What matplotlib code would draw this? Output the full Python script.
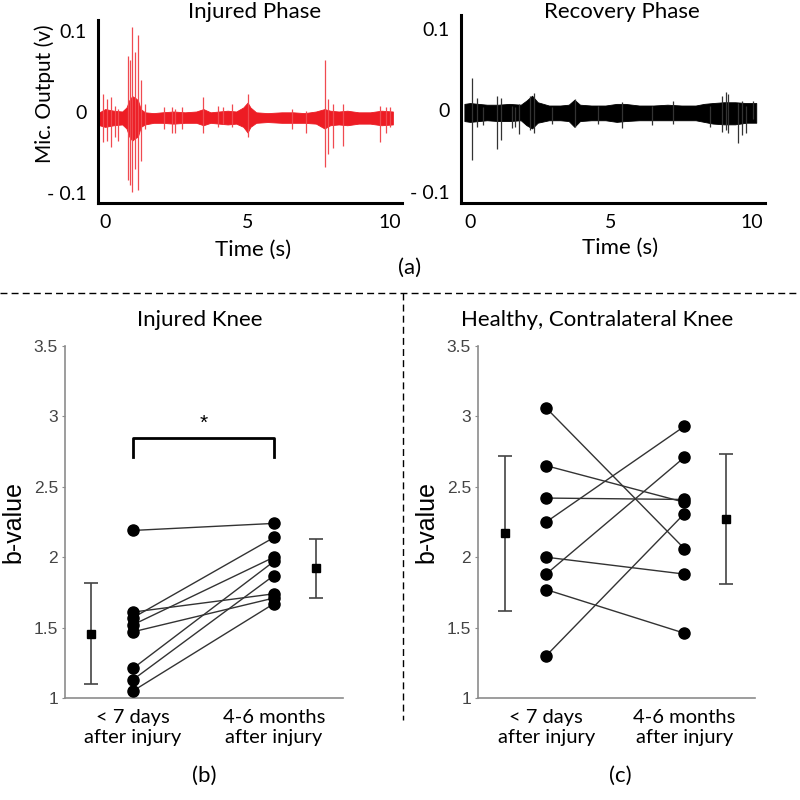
import numpy as np
import matplotlib
matplotlib.use("Agg")
import matplotlib.pyplot as plt
from matplotlib.lines import Line2D

# ---- panel (a): microphone traces ----
# baseline band (upper / lower edge) of the injured-phase trace
red_t = [-0.2, 0.0, 0.3, 0.6, 0.75, 0.85, 0.95, 1.05, 1.15, 1.25, 1.4, 1.7, 2.0,
         2.4, 2.8, 3.2, 3.45, 3.7, 4.0, 4.3, 4.6, 4.85, 5.0, 5.1, 5.3, 5.7, 6.2,
         6.6, 7.0, 7.4, 7.7, 7.9, 8.2, 8.5, 8.9, 9.3, 9.7, 10.1]
red_hi = [0.000, 0.004, 0.002, 0.001, 0.006, 0.015, 0.020, 0.018, 0.015, 0.004,
          0.000, -0.001, 0.000, 0.001, 0.000, 0.001, 0.004, 0.000, 0.001, 0.002,
          0.001, 0.006, 0.012, 0.006, 0.000, -0.001, 0.000, 0.000, -0.001, 0.001,
          0.004, 0.002, 0.001, 0.002, 0.000, 0.000, 0.002, 0.001]
red_lo = [-0.016, -0.018, -0.016, -0.015, -0.020, -0.030, -0.035, -0.032, -0.030,
          -0.018, -0.015, -0.013, -0.013, -0.014, -0.013, -0.013, -0.016, -0.013,
          -0.014, -0.015, -0.014, -0.018, -0.025, -0.018, -0.013, -0.012, -0.013,
          -0.013, -0.013, -0.014, -0.020, -0.016, -0.015, -0.016, -0.014, -0.014,
          -0.016, -0.015]
# spikes: time, top, bottom
red_spike_t = [-0.06, 0.06, 0.21, 0.35, 0.45, 0.80, 0.86, 0.96, 1.05, 1.15, 1.25,
               1.40, 2.05, 2.34, 2.45, 2.70, 3.45, 3.95, 4.15, 4.45, 5.03, 6.55,
               7.05, 7.70, 7.84, 8.01, 8.36, 9.65, 9.85, 10.0]
red_spike_hi = [0.023, 0.017, 0.019, 0.008, 0.004, 0.070, 0.065, 0.105, 0.075,
                0.095, 0.040, 0.010, 0.007, 0.007, 0.004, 0.006, 0.019, 0.008,
                0.006, 0.010, 0.023, 0.004, 0.002, 0.065, 0.017, 0.010, 0.010,
                0.008, 0.006, 0.006]
red_spike_lo = [-0.037, -0.035, -0.043, -0.030, -0.035, -0.084, -0.090, -0.098,
                -0.070, -0.096, -0.060, -0.020, -0.020, -0.026, -0.025, -0.020,
                -0.026, -0.018, -0.015, -0.018, -0.030, -0.020, -0.025, -0.068,
                -0.051, -0.044, -0.041, -0.037, -0.025, -0.018]

# recovery-phase trace
blk_t = [-0.2, 0.0, 0.3, 0.6, 1.0, 1.4, 1.8, 2.0, 2.2, 2.4, 2.8, 3.2, 3.5, 3.7,
         3.9, 4.3, 4.8, 5.2, 5.5, 6.0, 6.5, 7.0, 7.5, 8.0, 8.3, 8.6, 9.0, 9.4,
         9.8, 10.15]
blk_hi = [0.008, 0.009, 0.008, 0.007, 0.007, 0.008, 0.007, 0.012, 0.018, 0.010,
          0.006, 0.006, 0.007, 0.013, 0.007, 0.006, 0.006, 0.008, 0.008, 0.006,
          0.006, 0.007, 0.006, 0.006, 0.008, 0.009, 0.010, 0.010, 0.009, 0.009]
blk_lo = [-0.013, -0.014, -0.013, -0.012, -0.013, -0.013, -0.012, -0.018, -0.022,
          -0.015, -0.012, -0.012, -0.013, -0.020, -0.013, -0.012, -0.012, -0.014,
          -0.013, -0.012, -0.012, -0.012, -0.012, -0.012, -0.014, -0.016, -0.017,
          -0.017, -0.015, -0.015]
blk_spike_t = [0.06, 0.25, 0.45, 0.97, 1.09, 1.48, 1.60, 1.75, 2.13, 2.27, 2.90,
               3.72, 4.55, 5.38, 6.45, 7.21, 8.50, 8.95, 9.07, 9.15, 9.51, 9.63,
               9.80, 10.05]
blk_spike_hi = [0.040, 0.015, 0.004, 0.018, 0.015, 0.006, 0.004, 0.008, 0.018,
                0.021, 0.004, 0.014, 0.006, 0.010, 0.005, 0.011, 0.006, 0.018,
                0.022, 0.020, 0.009, 0.011, 0.006, 0.012]
blk_spike_lo = [-0.060, -0.020, -0.018, -0.047, -0.036, -0.022, -0.020, -0.029,
                -0.024, -0.027, -0.016, -0.020, -0.017, -0.022, -0.018, -0.016,
                -0.020, -0.026, -0.024, -0.027, -0.040, -0.030, -0.028, -0.010]

# ---- panels (b) and (c): b-values ----
groups = ["< 7 days\nafter injury", "4-6 months\nafter injury"]

inj_before = [2.19, 1.61, 1.57, 1.52, 1.47, 1.21, 1.13, 1.05]
inj_after = [2.24, 1.74, 2.14, 2.00, 1.71, 1.97, 1.87, 1.67]
inj_mean = [1.455, 1.92]
inj_err_hi = [1.815, 2.13]
inj_err_lo = [1.10, 1.71]

hea_before = [3.06, 2.65, 2.42, 2.25, 2.00, 1.88, 1.77, 1.30]
hea_after = [2.06, 2.39, 2.41, 2.93, 1.88, 2.71, 1.46, 2.31]
hea_mean = [2.17, 2.27]
hea_err_hi = [2.72, 2.73]
hea_err_lo = [1.62, 1.81]

CAL = ["Lato", "DejaVu Sans"]
ARI = ["Liberation Sans", "DejaVu Sans"]
FS = 16

fig = plt.figure(figsize=(8, 8), dpi=100)


def px(x, y):
    return x / 800, 1 - y / 800


def draw_trace(ax, t, hi, lo, st, shi, slo, color, scolor):
    ax.fill_between(t, lo, hi, color=color, lw=0.6, edgecolor=color)
    ax.vlines(st, slo, shi, color=scolor, lw=0.9)
    for s in ["top", "right"]:
        ax.spines[s].set_visible(False)
    for s in ["left", "bottom"]:
        ax.spines[s].set_linewidth(2.2)
    ax.tick_params(length=0, pad=8, labelsize=14)
    ax.set_xticks([0, 5, 10])
    ax.set_yticks([-0.1, 0, 0.1], ["- 0.1", "0", "0.1"])
    for lab in ax.get_xticklabels() + ax.get_yticklabels():
        lab.set_family(CAL)


ax1 = fig.add_axes([98 / 800, 1 - 203 / 800, 304 / 800, 183 / 800])
draw_trace(ax1, red_t, red_hi, red_lo, red_spike_t, red_spike_hi, red_spike_lo,
           "#ed1c24", "#f04a50")
ax1.set_xlim(-0.25, 10.42)
ax1.set_ylim(-0.112, 0.114)

ax2 = fig.add_axes([461 / 800, 1 - 203 / 800, 304 / 800, 188 / 800])
draw_trace(ax2, blk_t, blk_hi, blk_lo, blk_spike_t, blk_spike_hi, blk_spike_lo,
           "#000000", "#333333")
ax2.set_xlim(-0.32, 10.46)
ax2.set_ylim(-0.113, 0.1165)

fig.text(*px(255, 12), "Injured Phase", ha="center", va="center", fontsize=FS, family=CAL)
fig.text(*px(622, 12), "Recovery Phase", ha="center", va="center", fontsize=FS, family=CAL)
fig.text(*px(253, 250), "Time (s)", ha="center", va="center", fontsize=FS, family=CAL)
fig.text(*px(620, 248), "Time (s)", ha="center", va="center", fontsize=FS, family=CAL)
fig.text(*px(45, 94), "Mic. Output (v)", ha="center", va="center", rotation=90,
         fontsize=15, family=CAL)
fig.text(*px(410, 268), "(a)", ha="center", va="center", fontsize=FS, family=CAL)

# separators
dash = dict(color="black", lw=1, ls=(0, (5, 3)))
fig.add_artist(Line2D([0, 1], [1 - 293 / 800] * 2, **dash))
fig.add_artist(Line2D([403 / 800] * 2, [1 - 293 / 800, 1 - 720 / 800], **dash))


def draw_bvals(ax, before, after, mean, err_hi, err_lo):
    for b, a in zip(before, after):
        ax.plot([1, 2], [b, a], color="#333333", lw=1, zorder=2)
    ax.plot([1] * len(before), before, "o", color="black", ms=8, zorder=3)
    ax.plot([2] * len(after), after, "o", color="black", ms=8, zorder=3)
    mx = [0.70, 2.30]
    yerr = [[m - l for m, l in zip(mean, err_lo)], [h - m for m, h in zip(mean, err_hi)]]
    ax.errorbar(mx, mean, yerr=yerr, fmt="s", color="black", ms=6,
                ecolor="#444444", elinewidth=1.2, capsize=5, capthick=1.2)
    ax.set_ylim(1, 3.5)
    ax.set_yticks([1, 1.5, 2, 2.5, 3, 3.5], ["1", "1.5", "2", "2.5", "3", "3.5"])
    ax.set_xticks([1, 2], groups)
    for s in ["top", "right"]:
        ax.spines[s].set_visible(False)
    for s in ["left", "bottom"]:
        ax.spines[s].set_color("#8c8c8c")
        ax.spines[s].set_linewidth(1.2)
    ax.tick_params(axis="y", length=2, color="#8c8c8c", pad=3, labelsize=12.5,
                   labelcolor="#444444")
    ax.tick_params(axis="x", length=0, pad=8, labelsize=14.5)
    for lab in ax.get_yticklabels():
        lab.set_family(ARI)
    for lab in ax.get_xticklabels():
        lab.set_family(CAL)
        lab.set_linespacing(1.2)
    ax.set_ylabel("b-value", fontsize=18, family=ARI, labelpad=6)


ax3 = fig.add_axes([65 / 800, 1 - 698 / 800, 278 / 800, 352 / 800])
draw_bvals(ax3, inj_before, inj_after, inj_mean, inj_err_hi, inj_err_lo)
ax3.set_xlim(0.518, 2.49)
# significance bracket
ax3.plot([1, 1, 2, 2], [2.71, 2.85, 2.85, 2.71], color="black", lw=2)
ax3.text(1.5, 2.95, "*", ha="center", va="center", fontsize=15, family=ARI)

ax4 = fig.add_axes([478 / 800, 1 - 698 / 800, 277 / 800, 352 / 800])
draw_bvals(ax4, hea_before, hea_after, hea_mean, hea_err_hi, hea_err_lo)
ax4.set_xlim(0.507, 2.51)

fig.text(*px(200, 320), "Injured Knee", ha="center", va="center", fontsize=FS, family=CAL)
fig.text(*px(597, 320), "Healthy, Contralateral Knee", ha="center", va="center",
         fontsize=FS, family=CAL)
fig.text(*px(204, 776), "(b)", ha="center", va="center", fontsize=FS, family=CAL)
fig.text(*px(620, 776), "(c)", ha="center", va="center", fontsize=FS, family=CAL)

fig.savefig("out.png", dpi=100)
